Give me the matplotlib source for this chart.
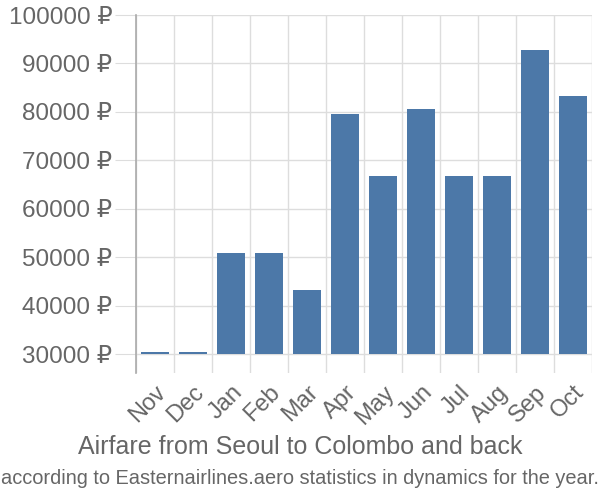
import numpy as np
import matplotlib.pyplot as plt
from matplotlib.ticker import FuncFormatter

plt.rcParams['font.family'] = ['Liberation Sans', 'DejaVu Sans']

months = ['Nov', 'Dec', 'Jan', 'Feb', 'Mar', 'Apr', 'May', 'Jun', 'Jul', 'Aug', 'Sep', 'Oct']
prices = [30450, 30400, 50900, 50850, 43250, 79550, 66750, 80600, 66750, 66750, 92850, 83300]
yticks = [30000, 40000, 50000, 60000, 70000, 80000, 90000, 100000]

base = 30000
text_col = '#666666'
bar_col = '#4c78a8'

fig = plt.figure(figsize=(6, 5), dpi=100)
ax = fig.add_axes([0.2267, 0.254, 0.76, 0.716])

x = np.arange(len(months))
heights = [p - base for p in prices]
ax.bar(x, heights, bottom=base, width=0.72, color=bar_col, zorder=3)

ax.set_xlim(-0.5, len(months) - 0.5)
ax.set_ylim(26100, 100000)

# category boundaries as vertical gridlines
ax.set_xticks(x)
ax.set_xticklabels(months, rotation=45, ha='right', va='top', rotation_mode='anchor')
for xv in list(x - 0.5) + [len(months) - 0.5]:
    ax.axvline(xv, color='#dddddd', linewidth=1, zorder=0)

ax.set_yticks(yticks)
ax.yaxis.set_major_formatter(FuncFormatter(lambda v, p: f'{int(v)} ₽'))
ax.grid(True, which='major', axis='y', color='#dddddd', linewidth=1, zorder=0)

ax.tick_params(axis='y', length=15, color='#dddddd', labelsize=17.5, labelcolor=text_col, pad=2)
ax.tick_params(axis='x', length=0, labelsize=17, labelcolor=text_col, pad=6)

for s in ['top', 'right', 'bottom']:
    ax.spines[s].set_visible(False)
ax.spines['left'].set_color('#aaaaaa')
ax.spines['left'].set_linewidth(1.2)

fig.text(0.5, 0.107, 'Airfare from Seoul to Colombo and back', ha='center', va='center',
         fontsize=18, color=text_col)
fig.text(0.5, 0.043, 'according to Easternairlines.aero statistics in dynamics for the year.',
         ha='center', va='center', fontsize=14.4, color=text_col)

fig.savefig('out.png', dpi=100)
